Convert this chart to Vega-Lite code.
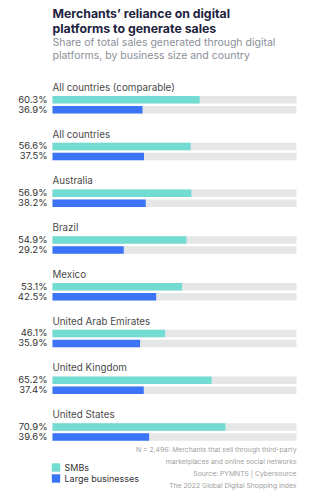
{
  "$schema": "https://vega.github.io/schema/vega-lite/v6.json",
  "background": "white",
  "padding": {"left": 17.5, "right": 5, "top": 8, "bottom": 5},
  "title": {
    "text": ["Merchants’ reliance on digital", "platforms to generate sales"],
    "subtitle": ["Share of total sales generated through digital", "platforms, by business size and country"],
    "anchor": "start",
    "frame": "group",
    "font": "Inter",
    "fontSize": 12.3,
    "fontWeight": "bold",
    "color": "#1d2340",
    "lineHeight": 15,
    "subtitleFont": "Inter",
    "subtitleFontSize": 10.5,
    "subtitleColor": "#8a8f99",
    "subtitleLineHeight": 13,
    "subtitlePadding": 3,
    "offset": 21
  },
  "vconcat": [
    {
      "title": {
        "text": ["N = 2,496: Merchants that sell through third-party", "marketplaces and online social networks", "Source:  PYMNTS  |  Cybersource", "The 2022 Global Digital Shopping Index"],
        "orient": "bottom",
        "anchor": "end",
        "font": "Inter",
        "fontSize": 6.8,
        "fontWeight": "normal",
        "color": "#a0a0a0",
        "lineHeight": 11.8,
        "offset": 6
      },
      "width": 244,
      "height": 344.7,
      "data": {
        "values": [
          {"country": "All countries (comparable)", "size": "SMBs", "share": 0.603},
          {"country": "All countries (comparable)", "size": "Large businesses", "share": 0.369},
          {"country": "All countries", "size": "SMBs", "share": 0.566},
          {"country": "All countries", "size": "Large businesses", "share": 0.375},
          {"country": "Australia", "size": "SMBs", "share": 0.569},
          {"country": "Australia", "size": "Large businesses", "share": 0.382},
          {"country": "Brazil", "size": "SMBs", "share": 0.549},
          {"country": "Brazil", "size": "Large businesses", "share": 0.292},
          {"country": "Mexico", "size": "SMBs", "share": 0.531},
          {"country": "Mexico", "size": "Large businesses", "share": 0.425},
          {"country": "United Arab Emirates", "size": "SMBs", "share": 0.461},
          {"country": "United Arab Emirates", "size": "Large businesses", "share": 0.359},
          {"country": "United Kingdom", "size": "SMBs", "share": 0.652},
          {"country": "United Kingdom", "size": "Large businesses", "share": 0.374},
          {"country": "United States", "size": "SMBs", "share": 0.709},
          {"country": "United States", "size": "Large businesses", "share": 0.396}
        ]
      },
      "encoding": {
        "y": {
          "field": "country",
          "type": "nominal",
          "sort": ["All countries (comparable)", "All countries", "Australia", "Brazil", "Mexico", "United Arab Emirates", "United Kingdom", "United States"],
          "axis": null,
          "scale": {"paddingInner": 0.626, "paddingOuter": 0}
        }
      },
      "layer": [
        {
          "mark": {"type": "bar", "color": "#e5e6e8"},
          "encoding": {
            "x": {"datum": 1, "type": "quantitative", "scale": {"domain": [0, 1]}, "axis": null},
            "yOffset": {
              "field": "size",
              "type": "nominal",
              "sort": ["SMBs", "Large businesses"],
              "scale": {"paddingInner": 0.25, "paddingOuter": 0}
            }
          }
        },
        {
          "mark": {"type": "bar"},
          "encoding": {
            "x": {"field": "share", "type": "quantitative", "scale": {"domain": [0, 1]}, "axis": null},
            "yOffset": {
              "field": "size",
              "type": "nominal",
              "sort": ["SMBs", "Large businesses"],
              "scale": {"paddingInner": 0.25, "paddingOuter": 0}
            },
            "color": {
              "field": "size",
              "type": "nominal",
              "sort": ["SMBs", "Large businesses"],
              "scale": {"domain": ["SMBs", "Large businesses"], "range": ["#72dcd3", "#3b74f6"]},
              "legend": {
                "title": null,
                "orient": "none",
                "legendX": -1,
                "legendY": 367,
                "symbolType": "square",
                "symbolSize": 70,
                "symbolStrokeWidth": 0,
                "labelFont": "Inter",
                "labelFontSize": 9,
                "labelColor": "#333333",
                "rowPadding": 1
              }
            }
          }
        },
        {
          "mark": {"type": "text", "align": "right", "baseline": "middle", "dx": -5, "font": "Inter", "fontSize": 9.5, "color": "#333333"},
          "encoding": {
            "x": {"datum": 0, "type": "quantitative", "scale": {"domain": [0, 1]}, "axis": null},
            "yOffset": {
              "field": "size",
              "type": "nominal",
              "sort": ["SMBs", "Large businesses"],
              "scale": {"paddingInner": 0.25, "paddingOuter": 0}
            },
            "text": {"field": "share", "type": "quantitative", "format": ".1%"}
          }
        },
        {
          "transform": [{"filter": "datum.size === 'SMBs'"}],
          "mark": {"type": "text", "align": "left", "baseline": "alphabetic", "dy": -5, "font": "Inter", "fontSize": 9.8, "color": "#4a4a4a"},
          "encoding": {
            "x": {"datum": 0, "type": "quantitative", "scale": {"domain": [0, 1]}, "axis": null},
            "y": {
              "field": "country",
              "type": "nominal",
              "bandPosition": 0,
              "sort": ["All countries (comparable)", "All countries", "Australia", "Brazil", "Mexico", "United Arab Emirates", "United Kingdom", "United States"],
              "axis": null
            },
            "text": {"field": "country", "type": "nominal"}
          }
        }
      ]
    }
  ],
  "config": {
    "view": {"stroke": null},
    "font": "Inter"
  }
}
